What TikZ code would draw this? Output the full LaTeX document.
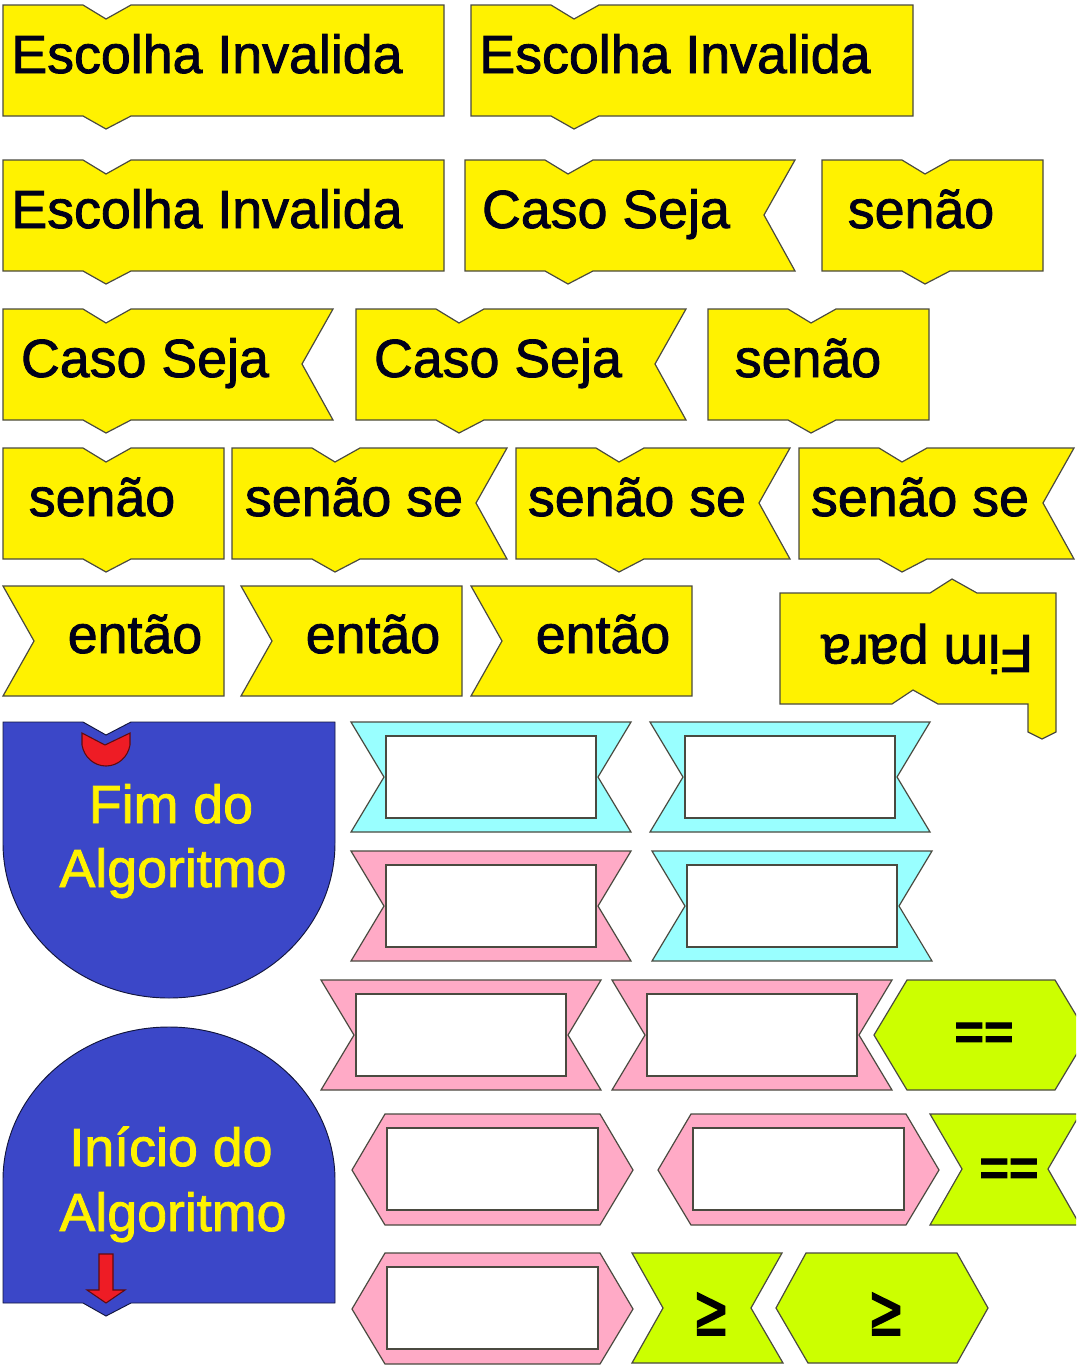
\documentclass[tikz,border=0pt]{standalone}
\usepackage{fontspec}
\setmainfont{Liberation Sans}
\newfontfamily\heavy[FakeBold=1.6]{Liberation Sans}
\newfontfamily\symb[FakeBold=1.5]{Liberation Sans Bold}
\newfontfamily\symc[FakeBold=3.5]{Liberation Sans}
\definecolor{ybl}{HTML}{FFF200}
\definecolor{cyn}{HTML}{99FFFF}
\definecolor{pnk}{HTML}{FFAAC6}
\definecolor{grn}{HTML}{CCFF00}
\definecolor{blu}{HTML}{3B47C8}
\definecolor{rd}{HTML}{EE1C25}
\definecolor{edge}{HTML}{4A4A40}
\tikzset{
  yellowblock/.style={draw=edge,fill=ybl,line width=0.9pt,line join=miter},
  frameblock/.style={draw=edge,fill=#1,line width=0.9pt},
  slot/.style={draw=edge,fill=white,line width=0.9pt},
  blueblock/.style={draw=black!70!blu,fill=blu,line width=0.7pt},
  redmark/.style={draw=black!60!rd,fill=rd,line width=0.8pt},
  darklabel/.style={inner sep=0pt,anchor=base,text=black!90!blue,font=\fontsize{40.3}{40}\selectfont\heavy},
  palelabel/.style={inner sep=0pt,anchor=base,text=ybl,font=\fontsize{40.3}{40}\selectfont\heavy},
  symlabel/.style={inner sep=0pt,anchor=center,text=black,font=\fontsize{38}{38}\selectfont\symb},
  gelabel/.style={inner sep=0pt,anchor=center,text=black,font=\fontsize{38}{38}\selectfont\symc},
}
% yellow blocks: x, y, width
\newcommand{\ytop}{(0,0) -- (80,0) -- (103,14) -- (128,0)}
\newcommand{\ybot}{(128,111) -- (103,124) -- (80,111) -- (0,111) -- cycle}
\newcommand{\yflat}[3]{\draw[yellowblock,shift={(#1,#2)}] \ytop -- (#3,0) -- (#3,111) -- \ybot;}
\newcommand{\ytail}[3]{\draw[yellowblock,shift={(#1,#2)}] \ytop -- (#3,0) -- ({#3-31},55) -- (#3,111) -- \ybot;}
\newcommand{\ythen}[3]{\draw[yellowblock,shift={(#1,#2)}] (0,0) -- (#3,0) -- (#3,110) -- (0,110) -- (31,55) -- cycle;}
% framed: x, y, colour
\newcommand{\ribbon}[3]{\draw[frameblock=#3,shift={(#1,#2)}] (0,0) -- (280,0) -- (247,55) -- (280,110) -- (0,110) -- (33,55) -- cycle;
  \draw[slot,shift={(#1,#2)}] (35,14) rectangle (245,96);}
\newcommand{\hexa}[2]{\draw[frameblock=pnk,shift={(#1,#2)}] (33,0) -- (248,0) -- (281,56) -- (248,111) -- (33,111) -- (0,56) -- cycle;
  \draw[slot,shift={(#1,#2)}] (35,14) rectangle (246,96);}
\begin{document}
\begin{tikzpicture}[x=0.75pt,y=-0.75pt]
\useasboundingbox (0,0) rectangle (1076,1372);
\clip (0,0) rectangle (1076,1372);
% row 1
\yflat{3}{5}{441}
\yflat{471}{5}{442}
% row 2
\yflat{3}{160}{441}
\ytail{465}{160}{330}
\yflat{822}{160}{221}
% row 3
\ytail{3}{309}{330}
\ytail{356}{309}{330}
\yflat{708}{309}{221}
% row 4
\yflat{3}{448}{221}
\ytail{232}{448}{275}
\ytail{516}{448}{274}
\ytail{799}{448}{275}
% row 5
\ythen{3}{586}{221}
\ythen{241}{586}{221}
\ythen{471}{586}{221}
% Fim para
\draw[yellowblock] (780,593) -- (930,593) -- (952,579) -- (977,593) -- (1056,593) -- (1056,732) -- (1042,739) -- (1028,732) -- (1028,704) -- (938,704) -- (913,690) -- (892,704) -- (780,704) -- cycle;
% Fim do Algoritmo
\draw[blueblock] (3,722) -- (83,722) -- (106,735) -- (131,722) -- (335,722) -- (335,843)
  .. controls (335,929) and (261,998) .. (169,998)
  .. controls (77,998) and (3,929) .. (3,843) -- cycle;
\draw[redmark] (82,733) -- (105,745) -- (130,733) -- (130,745)
  .. controls (128,757) and (118,766) .. (106,766)
  .. controls (94,766) and (84,757) .. (82,745) -- cycle;
% Inicio do Algoritmo
\draw[blueblock] (3,1303) -- (83,1303) -- (106,1316) -- (131,1303) -- (335,1303) -- (335,1180)
  .. controls (335,1096) and (261,1027) .. (169,1027)
  .. controls (77,1027) and (3,1096) .. (3,1180) -- cycle;
\draw[redmark] (99,1254) -- (113,1254) -- (113,1290) -- (125,1290) -- (106,1303) -- (87,1290) -- (99,1290) -- cycle;
% ribbons
\ribbon{351}{722}{cyn}
\ribbon{650}{722}{cyn}
\ribbon{351}{851}{pnk}
\ribbon{652}{851}{cyn}
\ribbon{321}{980}{pnk}
\ribbon{612}{980}{pnk}
% hexagons
\hexa{352}{1114}
\hexa{658}{1114}
\hexa{352}{1253}
% green
\draw[frameblock=grn] (907,980) -- (1055,980) -- (1088,1035) -- (1055,1090) -- (907,1090) -- (874,1035) -- cycle;
\draw[frameblock=grn] (930,1114) -- (1080,1114) -- (1048,1169) -- (1080,1225) -- (930,1225) -- (962,1169) -- cycle;
\draw[frameblock=grn] (632,1253) -- (782,1253) -- (751,1308) -- (783,1363) -- (632,1363) -- (663,1308) -- cycle;
\draw[frameblock=grn] (806,1253) -- (957,1253) -- (988,1308) -- (957,1363) -- (808,1363) -- (776,1308) -- cycle;
% labels
\node[darklabel] (e1) at (207,73) {Escolha Invalida};
\node[darklabel] (e2) at (675,73) {Escolha Invalida};
\node[darklabel] (e3) at (207,228) {Escolha Invalida};
\node[darklabel] (c1) at (606,228) {Caso Seja};
\node[darklabel] (s1) at (921,228) {senão};
\node[darklabel] (c2) at (145,377) {Caso Seja};
\node[darklabel] (c3) at (498,377) {Caso Seja};
\node[darklabel] (s2) at (808,377) {senão};
\node[darklabel] (s3) at (102,516) {senão};
\node[darklabel] (ss1) at (354,516) {senão se};
\node[darklabel] (ss2) at (637,516) {senão se};
\node[darklabel] (ss3) at (920,516) {senão se};
\node[darklabel] (t1) at (135,653) {então};
\node[darklabel] (t2) at (373,653) {então};
\node[darklabel] (t3) at (603,653) {então};
\node[darklabel,rotate=180] (fp) at (927,635) {Fim para};
\node[palelabel] (fd) at (171,823) {Fim do};
\node[palelabel] (fa) at (173,887) {Algoritmo};
\node[palelabel] (id) at (171,1166) {Início do};
\node[palelabel] (ia) at (173,1231) {Algoritmo};
\node[symlabel] (q1) at (984,1036) {==};
\node[symlabel] (q2) at (1009,1172) {==};
\node[gelabel] (g1) at (711,1314) {\scalebox{1.08}[1.35]{≥}};
\node[gelabel] (g2) at (886,1314) {\scalebox{1.08}[1.35]{≥}};
\end{tikzpicture}
\end{document}
